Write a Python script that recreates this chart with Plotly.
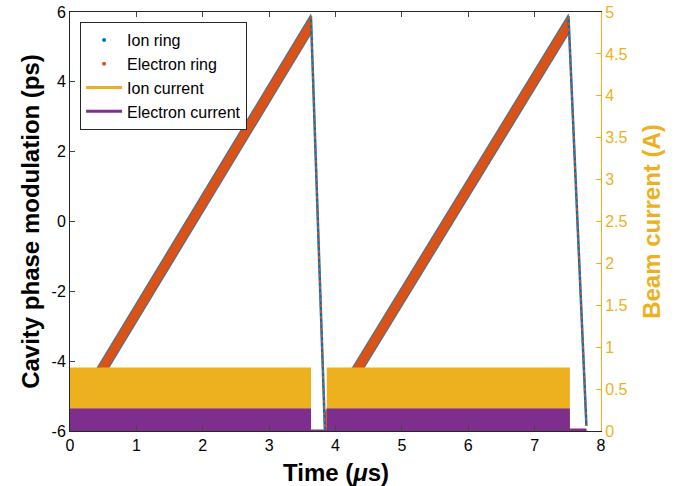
import plotly.graph_objects as go

# ---- data ----
# cavity phase modulation sawtooth knots (time in us, phase in ps)
ramp_start_t = [0.0, 3.84]
ramp_end_t = [3.63, 7.51]
ramp_start_phase = [-5.75, -5.75]
ramp_end_phase = [5.65, 5.65]
drop_t = [[3.63, 3.84], [7.51, 7.78]]
drop_phase = [[5.88, -5.95], [5.88, -5.85]]
ion_spread = 0.29       # ps, half-width of ion ring dot cloud
electron_spread = 0.25  # ps, half-width of electron ring dot cloud

# beam currents (A)
ion_current_t = [0, 3.62, 3.62, 3.88, 3.88, 7.52, 7.52, 7.8]
ion_current = [0.75, 0.75, 0, 0, 0.75, 0.75, 0, 0]
electron_current_t = [0, 3.62, 3.62, 3.88, 3.88, 7.52, 7.52, 7.78]
electron_current = [0.26, 0.26, 0.01, 0.01, 0.26, 0.26, 0.02, 0.02]

# tick labels
x_ticks = [0, 1, 2, 3, 4, 5, 6, 7, 8]
y_ticks = [-6, -4, -2, 0, 2, 4, 6]
y2_ticks = [0, 0.5, 1, 1.5, 2, 2.5, 3, 3.5, 4, 4.5, 5]

BLUE = "#0072BD"
ORANGE = "#D95319"
YELLOW = "#EDB120"
PURPLE = "#7E2F8E"
FONT = "Liberation Sans, Arial, sans-serif"

fig = go.Figure()


def band(spread, color):
    for t0, t1, p0, p1 in zip(ramp_start_t, ramp_end_t, ramp_start_phase, ramp_end_phase):
        fig.add_trace(go.Scatter(
            x=[t0, t1, t1, t0, t0],
            y=[p0 - spread, p1 - spread, p1 + spread, p0 + spread, p0 - spread],
            mode="lines", fill="toself", fillcolor=color,
            line=dict(color=color, width=0.5), showlegend=False, hoverinfo="skip"))


band(ion_spread, BLUE)
band(electron_spread, ORANGE)
for tt, pp in zip(drop_t, drop_phase):
    fig.add_trace(go.Scatter(x=tt, y=pp, mode="lines", line=dict(color=BLUE, width=2.5),
                             showlegend=False, hoverinfo="skip"))
    fig.add_trace(go.Scatter(x=tt, y=pp, mode="lines", line=dict(color=ORANGE, width=1.8, dash="dot"),
                             showlegend=False, hoverinfo="skip"))

# currents on right axis (drawn on top)
fig.add_trace(go.Scatter(x=ion_current_t, y=ion_current, yaxis="y2", mode="lines",
                         fill="tozeroy", fillcolor=YELLOW, line=dict(color=YELLOW, width=1.5),
                         showlegend=False))
fig.add_trace(go.Scatter(x=electron_current_t, y=electron_current, yaxis="y2", mode="lines",
                         fill="tozeroy", fillcolor=PURPLE, line=dict(color=PURPLE, width=1.5),
                         showlegend=False))

# legend entries
fig.add_trace(go.Scatter(x=[None], y=[None], mode="markers", name="Ion ring",
                         marker=dict(color=BLUE, size=4)))
fig.add_trace(go.Scatter(x=[None], y=[None], mode="markers", name="Electron ring",
                         marker=dict(color=ORANGE, size=4)))
fig.add_trace(go.Scatter(x=[None], y=[None], mode="lines", name="Ion current",
                         line=dict(color=YELLOW, width=3)))
fig.add_trace(go.Scatter(x=[None], y=[None], mode="lines", name="Electron current",
                         line=dict(color=PURPLE, width=3)))

fig.update_layout(
    width=689, height=486,
    margin=dict(l=70, r=88, t=12, b=55),
    paper_bgcolor="white", plot_bgcolor="white",
    font=dict(family=FONT, size=16, color="#262626"),
    showlegend=True,
    legend=dict(x=0.019, y=0.976, xanchor="left", yanchor="top",
                bgcolor="white", bordercolor="#262626", borderwidth=1,
                font=dict(size=16, color="black"), tracegroupgap=0, itemwidth=36),
    xaxis=dict(range=[0, 8], tickvals=x_ticks, ticktext=[str(v) for v in x_ticks],
               ticks="inside", ticklen=5, showgrid=False, automargin=False,
               zeroline=False, showline=True, linecolor="#262626", mirror="ticks",
               tickfont=dict(size=16, color="black")),
    yaxis=dict(range=[-6, 6], tickvals=y_ticks, ticktext=[str(v) for v in y_ticks],
               ticks="inside", ticklen=5, showgrid=False, automargin=False,
               zeroline=False, showline=True, linecolor="#262626",
               tickfont=dict(size=16, color="black"),
               title=dict(text="<b>Cavity phase modulation (ps)</b>",
                          font=dict(size=24, color="black"), standoff=5)),
    yaxis2=dict(range=[0, 5], tickvals=y2_ticks, ticktext=[f"{v:g}" for v in y2_ticks],
                overlaying="y", side="right", ticks="inside", automargin=False,
                ticklen=5, showgrid=False, zeroline=False, showline=True,
                linecolor=YELLOW, tickcolor=YELLOW,
                tickfont=dict(size=16, color=YELLOW),
                title=dict(text="<b>Beam current (A)</b>", font=dict(size=24, color=YELLOW),
                           standoff=16)),
    annotations=[dict(text="<b>Time (<i>μ</i>s)</b>", xref="paper", yref="paper",
                      x=0.5, y=-0.098, xanchor="center", yanchor="middle", showarrow=False,
                      font=dict(size=24, color="black", family=FONT))],
)

fig.write_html("out.html")
